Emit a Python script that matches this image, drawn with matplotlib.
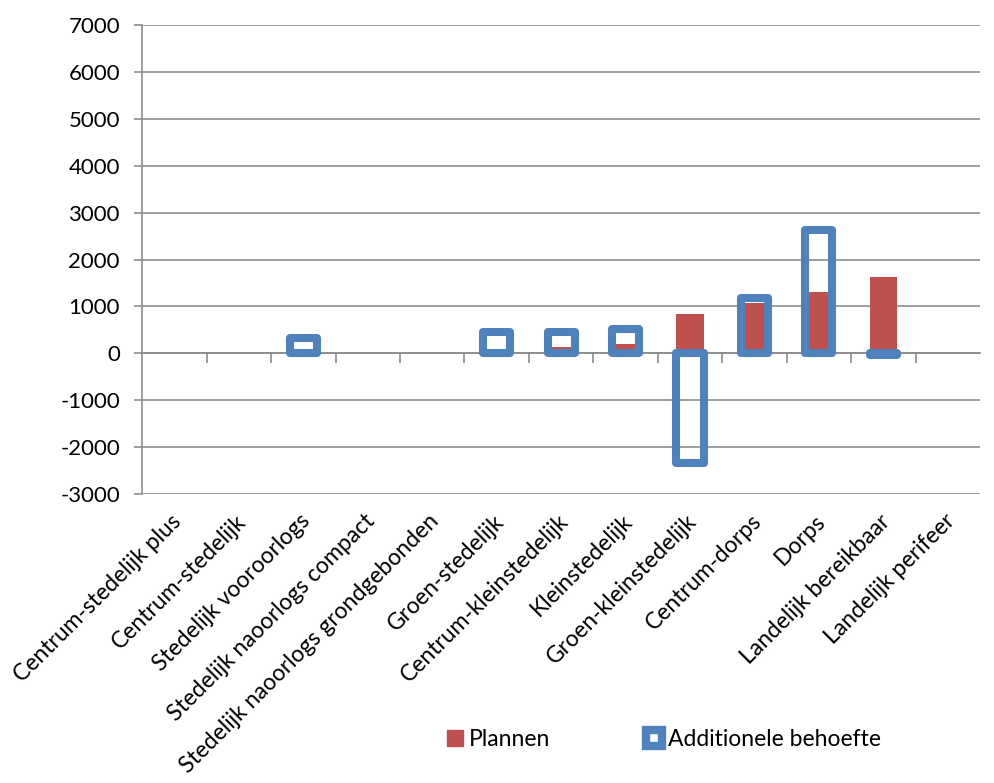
import matplotlib.pyplot as plt
import numpy as np
from matplotlib.patches import Patch

plt.rcParams['font.family'] = ['Lato', 'DejaVu Sans']
plt.rcParams['axes.unicode_minus'] = False

nan = np.nan
categories = ['Centrum-stedelijk plus', 'Centrum-stedelijk', 'Stedelijk vooroorlogs',
              'Stedelijk naoorlogs compact', 'Stedelijk naoorlogs grondgebonden',
              'Groen-stedelijk', 'Centrum-kleinstedelijk', 'Kleinstedelijk',
              'Groen-kleinstedelijk', 'Centrum-dorps', 'Dorps',
              'Landelijk bereikbaar', 'Landelijk perifeer']
plannen = [nan, nan, nan, nan, nan, nan, 130, 190, 850, 1080, 1300, 1620, nan]
additioneel = [nan, nan, 330, nan, nan, 450, 450, 530, -2330, 1170, 2620, -40, nan]

red = '#C0504D'
blue = '#4F81BD'
grid = '#8C8C8C'

fig = plt.figure(figsize=(9.94, 7.83), dpi=100)
ax = fig.add_axes([0.143, 0.369, 0.843, 0.599])

x = np.arange(len(categories))
w = 0.42
ax.bar(x, plannen, w, color=red, zorder=2)
ax.bar(x, additioneel, w, facecolor='none', edgecolor=blue, linewidth=5.8,
       joinstyle='round', zorder=3)

ax.set_ylim(-3000, 7000)
ax.set_xlim(-0.5, len(categories) - 0.5)
ax.set_yticks(range(-3000, 7001, 1000))
ax.yaxis.grid(True, color=grid, linewidth=1.2)
ax.set_axisbelow(True)
ax.tick_params(axis='y', labelsize=16, color=grid, length=6, width=1.2, pad=10)

for s in ['top', 'right']:
    ax.spines[s].set_visible(False)
ax.spines['left'].set_color(grid)
ax.spines['left'].set_linewidth(1.2)
ax.spines['bottom'].set_position(('data', 0))
ax.spines['bottom'].set_color(grid)
ax.spines['bottom'].set_linewidth(1.2)

# category axis sits at zero: boundary ticks there, names under the plot
ax.set_xticks(x)
ax.set_xticklabels([])
ax.tick_params(axis='x', which='major', length=0)
ax.set_xticks(np.arange(0.5, len(categories) - 0.5), minor=True)
ax.tick_params(axis='x', which='minor', length=7, width=1.2, color=grid, direction='out')

for xi, name in zip(x, categories):
    ax.text(xi - 0.06, -0.035, name, transform=ax.get_xaxis_transform(),
            rotation=45, ha='right', va='top', rotation_mode='anchor', fontsize=16.5)

handles = [Patch(facecolor=red, edgecolor=red),
           Patch(facecolor='white', edgecolor=blue, linewidth=6, joinstyle='round')]
fig.legend(handles, ['Plannen', 'Additionele behoefte'], loc='center left',
           bbox_to_anchor=(0.429, 0.055), ncol=2, frameon=False, fontsize=16.5,
           handlelength=0.7, handleheight=0.7, handletextpad=0.25, columnspacing=4.2)

fig.savefig('out.png', dpi=100)
